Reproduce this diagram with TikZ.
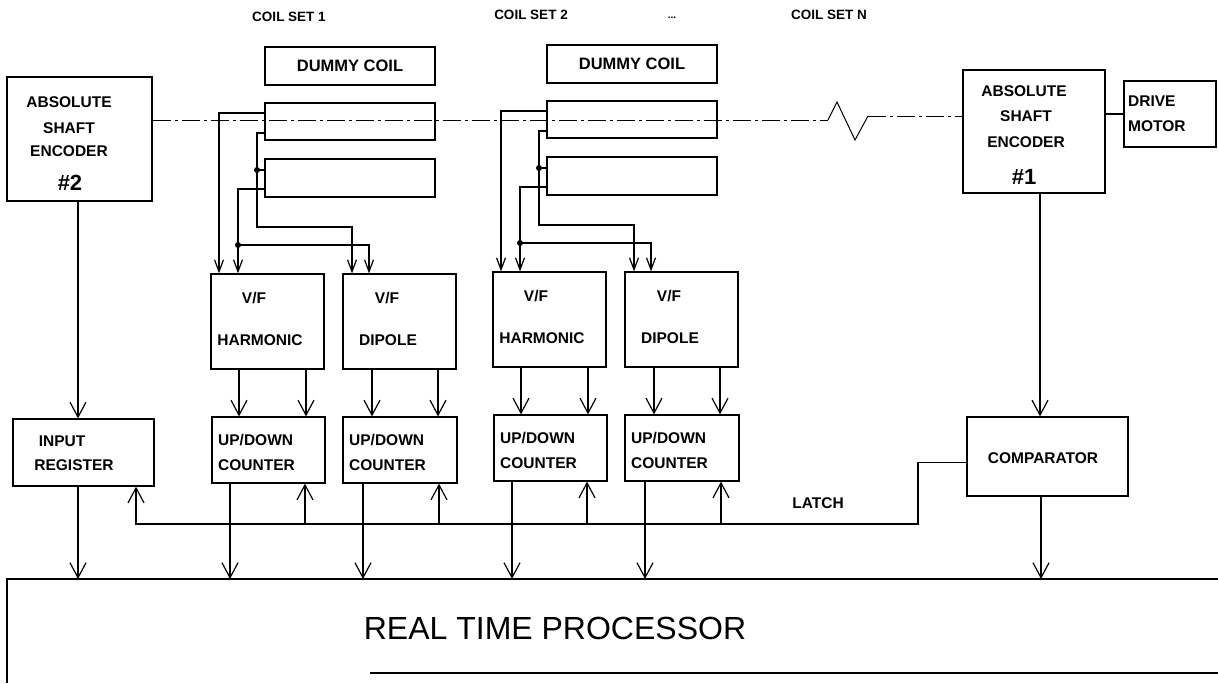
\documentclass[tikz,border=0pt]{standalone}
\usepackage{fontspec}
\setmainfont{Liberation Sans}
\usetikzlibrary{arrows.meta,calc}
\begin{document}
\begin{tikzpicture}[x=1pt,y=-1pt,
  box/.style={draw, line width=1.2pt, inner sep=0pt},
  lbl/.style={font=\fontsize{15.5}{17}\selectfont\bfseries, inner sep=0pt},
  big/.style={font=\fontsize{22}{24}\selectfont\bfseries, inner sep=0pt},
  head/.style={font=\fontsize{13.5}{15}\selectfont\bfseries, inner sep=0pt},
  wire/.style={line width=1.2pt},
  arr/.style={line width=1.2pt, -{Straight Barb[length=15pt,width=16pt,line width=1.2pt]}},
  sarr/.style={line width=1.2pt, -{Straight Barb[length=12pt,width=9pt,line width=1.2pt]}},
  shaft/.style={line width=1pt, dash pattern=on 18pt off 4pt on 3pt off 4pt},
  jdot/.style={circle, fill, inner sep=0pt, minimum size=6pt}]
\useasboundingbox (0,0) rectangle (1218,683);

% reference levels
\coordinate (latch) at (0,524);
\coordinate (ptop) at (0,579);

% headings
\node[head] (cs1) at (289,17) {COIL SET 1};
\node[head] (cs2) at (531,15) {COIL SET 2};
\node[font=\fontsize{10}{12}\selectfont\bfseries, inner sep=0pt] (csdots) at (672,18) {...};
\node[head] (csn) at (829,15) {COIL SET N};

% encoder #2
\node[box, minimum width=145pt, minimum height=124pt] (enc2) at (79.5,139) {};
\node[lbl] (enc2a) at (69,102) {ABSOLUTE};
\node[lbl] (enc2b) at (69,128) {SHAFT};
\node[lbl] (enc2c) at (69,151) {ENCODER};
\node[big] (enc2d) at (70,183) {\#2};

% encoder #1 and drive motor
\node[box, minimum width=142pt, minimum height=123pt] (enc1) at (1034,131.5) {};
\node[lbl] (enc1a) at (1024,91) {ABSOLUTE};
\node[lbl] (enc1b) at (1026,116) {SHAFT};
\node[lbl] (enc1c) at (1026,142) {ENCODER};
\node[big] (enc1d) at (1024,177) {\#1};
\node[box, minimum width=92pt, minimum height=66pt] (motor) at (1170,114) {};
\node[lbl, anchor=west] (motora) at (1128,101) {DRIVE};
\node[lbl, anchor=west] (motorb) at (1128,126) {MOTOR};
\draw[wire] (enc1.east |- motor.west) -- (motor.west);

% input register, comparator
\node[box, minimum width=141pt, minimum height=67pt] (inreg) at (83.5,452.5) {};
\node[lbl] (inrega) at (62,441) {INPUT};
\node[lbl] (inregb) at (74,465) {REGISTER};
\node[box, minimum width=161pt, minimum height=79pt] (comp) at (1047.5,456.5) {};
\node[lbl] (compa) at (1043,458) {COMPARATOR};
\node[lbl] (latchtxt) at (818,503) {LATCH};

% coil sets
\foreach \o/\s/\yo in {0/1/0, 282/2/-2} {
\begin{scope}[shift={(\o,\yo)}]
  \node[box, minimum width=170pt, minimum height=38pt] (dummy\s) at (350,66) {};
  \node[lbl, font=\fontsize{16.5}{18}\selectfont\bfseries] (dummyt\s) at (350,66) {DUMMY COIL};
  \node[box, minimum width=170pt, minimum height=37pt] (coila\s) at (350,121.5) {};
  \node[box, minimum width=170pt, minimum height=38pt] (coilb\s) at (350,178) {};
  % V/F boxes
  \node[box, minimum width=113pt, minimum height=95pt] (hv\s) at (267.5,321.5) {};
  \node[lbl] (hva\s) at (254,298) {V/F};
  \node[lbl] (hvb\s) at (260,340) {HARMONIC};
  \node[box, minimum width=113pt, minimum height=95pt] (dv\s) at (399.5,321.5) {};
  \node[lbl] (dva\s) at (387,298) {V/F};
  \node[lbl] (dvb\s) at (388,340) {DIPOLE};
  % counters
  \node[box, minimum width=113pt, minimum height=66pt] (ch\s) at (268.5,450) {};
  \node[lbl, anchor=west] (cha\s) at (218,440) {UP/DOWN};
  \node[lbl, anchor=west] (chb\s) at (218,465) {COUNTER};
  \node[box, minimum width=114pt, minimum height=66pt] (cd\s) at (400,450) {};
  \node[lbl, anchor=west] (cda\s) at (349,440) {UP/DOWN};
  \node[lbl, anchor=west] (cdb\s) at (349,465) {COUNTER};
  % coil leads
  \draw[sarr] (coila\s.west |- 0,113) -| (219,0 |- hv\s.north);
  \draw[sarr] (coila\s.west |- 0,133) -- (257,133) |- (352,227) -- (352,0 |- dv\s.north);
  \node[jdot] (ja\s) at (257,170) {};
  \draw[wire] (ja\s.center) -- (coilb\s.west |- ja\s.center);
  \draw[sarr] (coilb\s.west |- 0,189) -| (238,0 |- hv\s.north);
  \node[jdot] (jb\s) at (238,245) {};
  \draw[sarr] (jb\s.center) -| (369,0 |- dv\s.north);
  % V/F to counters
  \draw[arr] (239,0 |- hv\s.south) -- (239,0 |- ch\s.north);
  \draw[arr] (306,0 |- hv\s.south) -- (306,0 |- ch\s.north);
  \draw[arr] (372,0 |- dv\s.south) -- (372,0 |- cd\s.north);
  \draw[arr] (438,0 |- dv\s.south) -- (438,0 |- cd\s.north);
  % counters to processor
  \draw[arr] (230,0 |- ch\s.south) -- (230,0 |- ptop);
  \draw[arr] (363,0 |- cd\s.south) -- (363,0 |- ptop);
  % latch to counters
  \draw[arr] (305,0 |- latch) -- (305,0 |- ch\s.south);
  \draw[arr] (439,0 |- latch) -- (439,0 |- cd\s.south);
\end{scope}
}

% shaft line
\coordinate (z0) at (828,120);
\coordinate (z1) at (837,102);
\coordinate (z2) at (855,140);
\coordinate (z3) at (868,116);
\draw[shaft] (enc2.east |- z0) -- (z0);
\draw[wire, line width=1pt] (z0) -- (z1) -- (z2) -- (z3);
\draw[shaft] (z3) -- (enc1.west |- z3);

% encoders to register / comparator
\draw[arr] (78,0 |- enc2.south) -- (78,0 |- inreg.north);
\draw[arr] (1040,0 |- enc1.south) -- (1040,0 |- comp.north);

% latch line
\draw[arr] ($(comp.west)+(0,6)$) -- (918,462.5) |- (136,0 |- latch) -- (136,0 |- inreg.south);

% outputs to processor
\draw[arr] (78,0 |- inreg.south) -- (78,0 |- ptop);
\draw[arr] (1041,0 |- comp.south) -- (1041,0 |- ptop);

% real time processor
\node[font=\fontsize{32}{36}\selectfont, inner sep=0pt] (rtp) at (555,628) {REAL TIME PROCESSOR};
\draw[wire] (7,683) -- (7,0 |- ptop) -- (1218,0 |- ptop);
\draw[wire] (370,673) -- (1218,673);
\end{tikzpicture}
\end{document}
